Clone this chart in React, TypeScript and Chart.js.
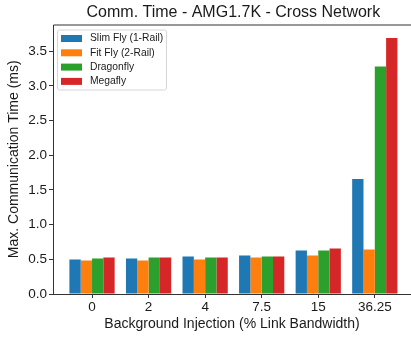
import React, { useEffect, useRef } from "react";
import { Chart, registerables } from "chart.js";

Chart.register(...registerables);

const categories = ["0", "2", "4", "7.5", "15", "36.25"];
const seriesNames = ["Slim Fly (1-Rail)", "Fit Fly (2-Rail)", "Dragonfly", "Megafly"];
const slimFly = [0.497, 0.512, 0.54, 0.555, 0.628, 1.657];
const fitFly = [0.483, 0.483, 0.497, 0.526, 0.555, 0.642];
const dragonfly = [0.512, 0.526, 0.526, 0.54, 0.628, 3.28];
const megafly = [0.526, 0.526, 0.526, 0.54, 0.657, 3.69];
const colors = ["#1f77b4", "#ff7f0e", "#2ca02c", "#d62728"];
const yTicks = [0, 0.5, 1.0, 1.5, 2.0, 2.5, 3.0, 3.5];
const chartTitle = "Comm. Time - AMG1.7K - Cross Network";

const FONT = "'Liberation Sans', Arial, sans-serif";
const TEXT = "#1a1a1a";
const AXIS = "#333333";

const framePlugin = {
  id: "frame",
  afterDatasetsDraw(chart: any) {
    const { ctx, chartArea } = chart;
    const { left, top, right, bottom } = chartArea;
    ctx.save();
    ctx.strokeStyle = AXIS;
    ctx.lineWidth = 1;
    ctx.beginPath();
    ctx.moveTo(left + 0.5, bottom);
    ctx.lineTo(left + 0.5, top + 0.5);
    ctx.lineTo(right, top + 0.5);
    ctx.moveTo(left, bottom + 0.5);
    ctx.lineTo(right, bottom + 0.5);
    ctx.stroke();
    ctx.restore();
  },
};

const titlePlugin = {
  id: "plotTitle",
  afterDraw(chart: any) {
    const { ctx, chartArea } = chart;
    ctx.save();
    ctx.font = `16px ${FONT}`;
    ctx.fillStyle = TEXT;
    ctx.textAlign = "center";
    ctx.textBaseline = "middle";
    ctx.fillText(chartTitle, (chartArea.left + 413.7) / 2, 13);
    ctx.restore();
  },
};

const legendPlugin = {
  id: "innerLegend",
  afterDraw(chart: any) {
    const { ctx, chartArea } = chart;
    const x0 = chartArea.left + 4.5;
    const y0 = chartArea.top + 5.5;
    const w = 109;
    const h = 60;
    ctx.save();
    ctx.fillStyle = "rgba(255,255,255,0.8)";
    ctx.strokeStyle = "#d6d6d6";
    ctx.lineWidth = 1;
    ctx.beginPath();
    const r = 2;
    ctx.moveTo(x0 + r, y0);
    ctx.lineTo(x0 + w - r, y0);
    ctx.arcTo(x0 + w, y0, x0 + w, y0 + r, r);
    ctx.lineTo(x0 + w, y0 + h - r);
    ctx.arcTo(x0 + w, y0 + h, x0 + w - r, y0 + h, r);
    ctx.lineTo(x0 + r, y0 + h);
    ctx.arcTo(x0, y0 + h, x0, y0 + h - r, r);
    ctx.lineTo(x0, y0 + r);
    ctx.arcTo(x0, y0, x0 + r, y0, r);
    ctx.closePath();
    ctx.fill();
    ctx.stroke();
    ctx.font = `10.3px ${FONT}`;
    ctx.textBaseline = "middle";
    chart.data.datasets.forEach((ds: any, i: number) => {
      const cy = y0 + 8.5 + i * 14.3;
      ctx.fillStyle = ds.backgroundColor;
      ctx.fillRect(x0 + 3.5, cy - 3.5, 21, 7);
      ctx.fillStyle = TEXT;
      ctx.fillText(ds.label, x0 + 32.5, cy);
    });
    ctx.restore();
  },
};

export default function App() {
  const ref = useRef<HTMLCanvasElement>(null);
  useEffect(() => {
    if (!ref.current) return;
    const seriesValues = [slimFly, fitFly, dragonfly, megafly];
    const chart = new Chart(ref.current, {
      type: "bar",
      data: {
        datasets: seriesNames.map((name, i) => ({
          label: name,
          data: seriesValues[i].map((v, j) => ({ x: j, y: v })),
          backgroundColor: colors[i],
          borderWidth: 0,
          categoryPercentage: 0.8,
          barPercentage: 1.0,
        })),
      },
      options: {
        animation: false,
        responsive: false,
        maintainAspectRatio: false,
        layout: { padding: { top: 24.5, left: 0, right: 0, bottom: 0 } },
        plugins: {
          legend: { display: false },
          tooltip: { enabled: false },
          title: { display: false },
        },
        scales: {
          x: {
            type: "linear",
            min: -0.69,
            max: 5.64,
            offset: false,
            afterBuildTicks: (scale: any) => {
              scale.ticks = categories.map((_, i) => ({ value: i }));
            },
            afterFit: (scale: any) => {
              scale.height = 43;
            },
            ticks: {
              color: TEXT,
              font: { family: FONT, size: 13.5 },
              padding: 1,
              maxRotation: 0,
              autoSkip: false,
              callback: (v: any) => categories[Math.round(Number(v))] ?? "",
            },
            grid: {
              display: true,
              offset: false,
              drawOnChartArea: false,
              drawTicks: true,
              tickLength: 4,
              color: AXIS,
            },
            border: { display: false },
            title: {
              display: true,
              text: "Background Injection (% Link Bandwidth)",
              color: TEXT,
              font: { family: FONT, size: 14 },
              padding: { top: 0, bottom: 4 },
            },
          },
          y: {
            type: "linear",
            min: 0,
            max: 3.885,
            afterBuildTicks: (scale: any) => {
              scale.ticks = yTicks.map((v) => ({ value: v }));
            },
            afterFit: (scale: any) => {
              scale.width = 53;
            },
            ticks: {
              color: TEXT,
              font: { family: FONT, size: 13.5 },
              padding: 2,
              callback: (v: any) => Number(v).toFixed(1),
            },
            grid: {
              display: true,
              offset: false,
              drawOnChartArea: false,
              drawTicks: true,
              tickLength: 4,
              color: AXIS,
            },
            border: { display: false },
            title: {
              display: true,
              text: "Max. Communication Time (ms)",
              color: TEXT,
              font: { family: FONT, size: 14 },
              padding: { top: 6, bottom: 0 },
            },
          },
        },
      },
      plugins: [framePlugin, legendPlugin, titlePlugin],
    } as any);
    return () => chart.destroy();
  }, []);
  return (
    <div style={{ position: "absolute", left: 0, top: 0, width: 411, height: 337, background: "#fff" }}>
      <canvas ref={ref} width={411} height={337} style={{ display: "block", width: 411, height: 337 }} />
    </div>
  );
}
